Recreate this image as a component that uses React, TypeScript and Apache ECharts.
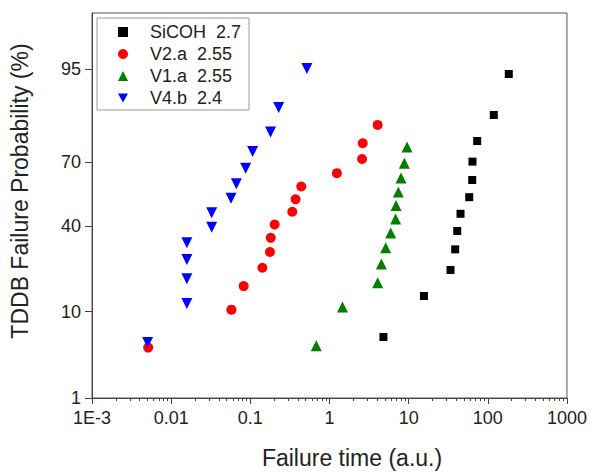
import React, { useEffect, useRef } from "react";
import * as echarts from "echarts";

// ---- data ----
const seriesNames = ["SiCOH  2.7", "V2.a  2.55", "V1.a  2.55", "V4.b  2.4"];

const sicohTime = [4.8, 15.6, 33.8, 38.7, 41.1, 45.2, 58.2, 63.5, 64.0, 73.4, 119, 184];
const sicohProb = [5.6, 13.7, 21.8, 29.8, 37.9, 46.0, 54.0, 62.1, 70.2, 78.2, 86.3, 94.4];

const v2aTime = [0.00513, 0.0577, 0.0824, 0.142, 0.177, 0.181, 0.203, 0.339, 0.373, 0.44, 1.24, 2.58, 2.63, 4.06];
const v2aProb = [4.3, 10.4, 16.5, 22.6, 28.7, 34.8, 40.9, 47.0, 53.0, 59.1, 65.2, 71.3, 77.4, 83.5];

const v1aTime = [0.68, 1.46, 4.06, 4.52, 5.13, 5.93, 6.85, 6.93, 7.41, 8.01, 8.82, 9.54];
const v1aProb = [4.5, 11.0, 17.5, 24.0, 30.5, 37.0, 43.5, 50.0, 56.5, 63.0, 69.5, 76.0];

const v4bTime = [0.00504, 0.0158, 0.0158, 0.0158, 0.0158, 0.0325, 0.0325, 0.057, 0.0667, 0.0873, 0.107, 0.18, 0.228, 0.518];
const v4bProb = [4.9, 11.8, 18.8, 25.7, 32.6, 39.6, 46.5, 53.5, 60.4, 67.4, 74.3, 81.3, 88.2, 95.1];

const yTickPercents = [1, 10, 40, 70, 95];
const yRangePercents = [1, 99];
const xTickLabels = ["1E-3", "0.01", "0.1", "1", "10", "100", "1000"];
const xDecadeExponents = [-3, -2, -1, 0, 1, 2, 3];
const xMinorMultipliers = [2, 3, 4, 5, 6, 7, 8, 9];

// inverse standard normal CDF (Acklam) -> normal probability scale
function probit(p: number): number {
  const a = [-39.69683028665376, 220.9460984245205, -275.9285104469687, 138.357751867269, -30.66479806614716, 2.506628277459239];
  const b = [-54.47609879822406, 161.5858368580409, -155.6989798598866, 66.80131188771972, -13.28068155288572];
  const c = [-0.007784894002430293, -0.3223964580411365, -2.400758277161838, -2.549732539343734, 4.374664141464968, 2.938163982698783];
  const d = [0.007784695709041462, 0.3224671290700398, 2.445134137142996, 3.754408661907416];
  const plow = 0.02425;
  if (p < plow) {
    const q = Math.sqrt(-2 * Math.log(p));
    return (((((c[0] * q + c[1]) * q + c[2]) * q + c[3]) * q + c[4]) * q + c[5]) /
      ((((d[0] * q + d[1]) * q + d[2]) * q + d[3]) * q + 1);
  }
  if (p <= 1 - plow) {
    const q = p - 0.5;
    const r = q * q;
    return ((((((a[0] * r + a[1]) * r + a[2]) * r + a[3]) * r + a[4]) * r + a[5]) * q) /
      (((((b[0] * r + b[1]) * r + b[2]) * r + b[3]) * r + b[4]) * r + 1);
  }
  const q = Math.sqrt(-2 * Math.log(1 - p));
  return -(((((c[0] * q + c[1]) * q + c[2]) * q + c[3]) * q + c[4]) * q + c[5]) /
    ((((d[0] * q + d[1]) * q + d[2]) * q + d[3]) * q + 1);
}

const toPoints = (t: number[], p: number[]) => t.map((v, i) => [v, probit(p[i] / 100)]);

const FONT = "'Liberation Sans', Arial, Helvetica, sans-serif";
const AXIS_COLOR = "#444";
const TEXT_COLOR = "#222";
const DOWN_TRIANGLE = "path://M0,0L10,0L5,9Z";

export default function App() {
  const ref = useRef<HTMLDivElement>(null);

  useEffect(() => {
    if (!ref.current) return;
    const chart = echarts.init(ref.current, undefined, { renderer: "svg" });

    const yTickVals = yTickPercents.map((p) => probit(p / 100));
    const minorVals: number[] = [];
    xDecadeExponents.slice(0, -1).forEach((e) => {
      xMinorMultipliers.forEach((m) => minorVals.push(e + Math.log10(m)));
    });

    const option: any = {
      animation: false,
      backgroundColor: "#fff",
      textStyle: { fontFamily: FONT },
      grid: {
        left: 92,
        right: 22,
        top: 13,
        bottom: 76,
        show: true,
        borderColor: "#555",
        borderWidth: 1,
        backgroundColor: "transparent",
        containLabel: false,
      },
      legend: {
        orient: "vertical",
        left: 97,
        top: 18,
        padding: [5, 8, 3, 21],
        itemGap: 4,
        itemWidth: 10,
        itemHeight: 10,
        borderColor: "#999",
        borderWidth: 1,
        itemStyle: { opacity: 1 },
        textStyle: { fontSize: 18, color: TEXT_COLOR, fontFamily: FONT, padding: [0, 0, 0, 17] },
        data: [
          { name: seriesNames[0], icon: "rect" },
          { name: seriesNames[1], icon: "circle" },
          { name: seriesNames[2], icon: "triangle" },
          { name: seriesNames[3], icon: DOWN_TRIANGLE },
        ],
      },
      xAxis: [
        {
          type: "log",
          logBase: 10,
          min: 0.001,
          max: 1000,
          axisLine: { show: true, onZero: false, lineStyle: { color: AXIS_COLOR, width: 1 } },
          axisTick: { show: true, inside: false, length: 6, lineStyle: { color: AXIS_COLOR } },
          splitLine: { show: false },
          minorTick: { show: false },
          axisLabel: {
            fontSize: 18,
            color: TEXT_COLOR,
            fontFamily: FONT,
            margin: 11,
            formatter: (v: number) => {
              const idx = xDecadeExponents.indexOf(Math.round(Math.log10(v)));
              return idx >= 0 ? xTickLabels[idx] : "";
            },
          },
        },
        {
          type: "value",
          min: -3,
          max: 3,
          position: "bottom",
          axisLine: { show: false, onZero: false },
          axisTick: { show: true, inside: false, length: 3, customValues: minorVals, lineStyle: { color: AXIS_COLOR } },
          axisLabel: { show: false },
          splitLine: { show: false },
        },
      ],
      yAxis: {
        type: "value",
        min: probit(yRangePercents[0] / 100),
        max: probit(yRangePercents[1] / 100),
        axisLine: { show: true, onZero: false, lineStyle: { color: AXIS_COLOR, width: 1 } },
        axisTick: { show: true, inside: false, length: 7, customValues: yTickVals, lineStyle: { color: AXIS_COLOR } },
        splitLine: { show: false },
        axisLabel: {
          customValues: yTickVals,
          fontSize: 18,
          color: TEXT_COLOR,
          fontFamily: FONT,
          margin: 11,
          formatter: (v: number) => {
            let best = 0;
            yTickVals.forEach((t, i) => {
              if (Math.abs(t - v) < Math.abs(yTickVals[best] - v)) best = i;
            });
            return String(yTickPercents[best]);
          },
        },
      },
      series: [
        {
          name: seriesNames[0],
          type: "scatter",
          symbol: "rect",
          symbolSize: 8,
          itemStyle: { color: "#000000", opacity: 1 },
          data: toPoints(sicohTime, sicohProb),
        },
        {
          name: seriesNames[1],
          type: "scatter",
          symbol: "circle",
          symbolSize: 10,
          itemStyle: { color: "#ff0000", opacity: 1 },
          data: toPoints(v2aTime, v2aProb),
        },
        {
          name: seriesNames[2],
          type: "scatter",
          symbol: "triangle",
          symbolSize: 11,
          itemStyle: { color: "#008000", opacity: 1 },
          data: toPoints(v1aTime, v1aProb),
        },
        {
          name: seriesNames[3],
          type: "scatter",
          symbol: "triangle",
          symbolRotate: 180,
          symbolSize: 11,
          itemStyle: { color: "#0000ff", opacity: 1 },
          data: toPoints(v4bTime, v4bProb),
        },
      ],
      graphic: [
        {
          type: "text",
          x: 352,
          y: 458,
          style: {
            text: "Failure time (a.u.)",
            fontSize: 23,
            fontFamily: FONT,
            fill: TEXT_COLOR,
            align: "center",
            verticalAlign: "middle",
            textAlign: "center",
            textVerticalAlign: "middle",
          },
        },
        {
          type: "text",
          x: 20,
          y: 191,
          rotation: Math.PI / 2,
          style: {
            text: "TDDB Failure Probability (%)",
            fontSize: 23,
            fontFamily: FONT,
            fill: TEXT_COLOR,
            align: "center",
            verticalAlign: "middle",
            textAlign: "center",
            textVerticalAlign: "middle",
          },
        },
      ],
    };

    chart.setOption(option);
    return () => chart.dispose();
  }, []);

  return <div ref={ref} style={{ width: 590, height: 474, position: "absolute", left: 0, top: 0 }} />;
}
